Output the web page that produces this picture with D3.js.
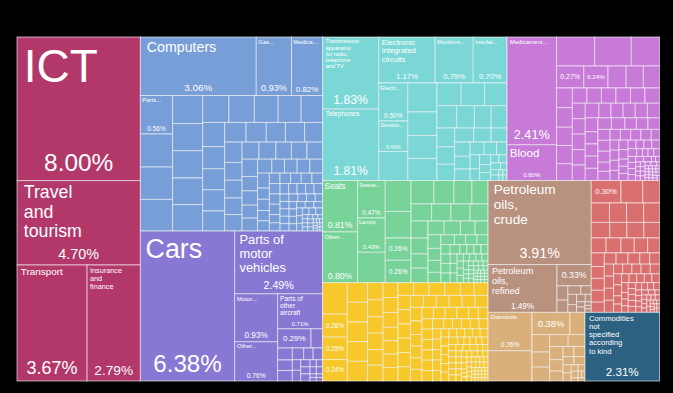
<!DOCTYPE html>
<html>
<head>
<meta charset="utf-8">
<script src="https://cdn.jsdelivr.net/npm/d3@7"></script>
<style>
  html, body { margin: 0; background: #000; }
  svg { display: block; font-family: "Liberation Sans", Arial, sans-serif; }
</style>
</head>
<body>
<div id="chart"></div>
<script>
// share of exports, % of total
const servicesValues = [8.00, 4.70, 3.67, 2.79];
const servicesLabels = ["ICT", "Travel and tourism", "Transport", "Insurance and finance"];

const machinesValues = [3.06, 0.93, 0.82, 0.56, 0.48, 0.47, 0.46, 0.38, 0.37, 0.37, 0.36, 0.36,
  0.32, 0.31, 0.29, 0.28, 0.26, 0.24, 0.22, 0.21, 0.21, 0.20, 0.19, 0.18, 0.17, 0.17, 0.16, 0.16,
  0.14, 0.14, 0.13, 0.13, 0.13, 0.13, 0.12, 0.12, 0.12, 0.12, 0.10, 0.10, 0.09, 0.09, 0.09,
  0.08, 0.08, 0.08, 0.08, 0.08, 0.06, 0.06, 0.055, 0.055, 0.05, 0.05, 0.05, 0.05, 0.05, 0.05, 0.05, 0.05,
  0.04, 0.04, 0.04, 0.04, 0.04, 0.04, 0.04, 0.03, 0.03, 0.03, 0.03, 0.03, 0.03, 0.03, 0.03,
  0.025, 0.025, 0.025, 0.025, 0.025, 0.025, 0.025, 0.025, 0.02, 0.02, 0.02, 0.02, 0.02, 0.02,
  0.01, 0.01, 0.01, 0.01, 0.01, 0.01, 0.01, 0.01, 0.01, 0.01,
  0.005, 0.005, 0.005, 0.005, 0.005, 0.005, 0.005, 0.005, 0.005, 0.005];
const machinesLabels = ["Computers", "Gas...", "Medica...", "Parts..."];

const transportValues = [6.38, 2.49, 0.93, 0.76, 0.71, 0.29, 0.10, 0.08, 0.07, 0.07, 0.06, 0.05,
  0.05, 0.04, 0.04, 0.03, 0.03, 0.03, 0.02, 0.02, 0.02, 0.02, 0.01, 0.01, 0.01, 0.01];
const transportLabels = ["Cars", "Parts of motor vehicles", "Motor...", "Other...", "Parts of other aircraft", ""];

const electronicsValues = [1.83, 1.81, 1.17, 0.79, 0.70, 0.50, 0.40, 0.38, 0.38, 0.31, 0.30, 0.29,
  0.25, 0.24, 0.23, 0.20, 0.18, 0.17, 0.16, 0.15, 0.14, 0.13, 0.12, 0.11, 0.10, 0.10, 0.09, 0.08,
  0.08, 0.07, 0.06, 0.06, 0.05, 0.05, 0.04, 0.04, 0.03, 0.03, 0.03, 0.02, 0.02, 0.02,
  0.01, 0.01, 0.01, 0.01];
const electronicsLabels = ["Transmission apparatus for radio, telephone and TV", "Telephones",
  "Electronic integrated circuits", "Monitors...", "Insulat...", "Electr...", "Semico..."];

const chemicalsValues = [2.41, 0.80, 0.50, 0.48, 0.37, 0.27, 0.24, 0.18, 0.17, 0.16, 0.14, 0.14,
  0.13, 0.13, 0.12, 0.10, 0.10, 0.10, 0.10, 0.10, 0.10, 0.09, 0.09, 0.09, 0.09, 0.09, 0.09,
  0.08, 0.08, 0.08, 0.08, 0.08, 0.08, 0.07, 0.07, 0.07, 0.07, 0.07, 0.07, 0.06, 0.06, 0.06, 0.06,
  0.06, 0.06, 0.05, 0.05, 0.05, 0.05, 0.05, 0.05, 0.04, 0.04, 0.04, 0.04, 0.04, 0.04, 0.04,
  0.03, 0.03, 0.03, 0.03, 0.03, 0.03, 0.03, 0.03, 0.02, 0.02, 0.02, 0.02, 0.02, 0.02, 0.02, 0.02,
  0.02, 0.02, 0.01, 0.01, 0.01, 0.01, 0.01, 0.01, 0.01, 0.01, 0.01, 0.01, 0.01, 0.01,
  0.005, 0.005, 0.005, 0.005, 0.005, 0.005, 0.005, 0.005, 0.005, 0.005,
  0.005, 0.005, 0.005, 0.005, 0.005, 0.005, 0.005, 0.005, 0.005, 0.005];
const chemicalsLabels = ["Medicament...", "Blood", null, null, null, "", ""];

const miscValues = [0.81, 0.80, 0.47, 0.43, 0.38, 0.36, 0.31, 0.26, 0.26, 0.24, 0.21, 0.19, 0.17,
  0.16, 0.15, 0.15, 0.14, 0.13, 0.12, 0.11, 0.11, 0.10, 0.10, 0.09, 0.08, 0.08, 0.07, 0.07,
  0.06, 0.06, 0.05, 0.05, 0.05, 0.04, 0.04, 0.04, 0.04, 0.04,
  0.03, 0.03, 0.03, 0.03, 0.03, 0.03, 0.03, 0.02, 0.02, 0.02, 0.02, 0.02, 0.02, 0.02, 0.02, 0.02,
  0.01, 0.01, 0.01, 0.01, 0.01, 0.01, 0.01, 0.01, 0.01, 0.01, 0.01, 0.01, 0.01, 0.01,
  0.005, 0.005, 0.005, 0.005, 0.005, 0.005, 0.005, 0.005,
  0.005, 0.005, 0.005, 0.005, 0.005, 0.005, 0.005, 0.005];
const miscLabels = ["Seats", "Other...", "Sweat...", "Lamps", null, null, null, "", ""];

const textilesValues = [0.35, 0.26, 0.25, 0.24, 0.18, 0.18, 0.18, 0.18, 0.18, 0.12, 0.12, 0.115,
  0.115, 0.11, 0.11, 0.10, 0.10, 0.10, 0.09, 0.09, 0.09, 0.09, 0.09, 0.09, 0.09, 0.09,
  0.08, 0.08, 0.08, 0.08, 0.08, 0.08, 0.08, 0.08, 0.07, 0.07, 0.07, 0.07, 0.07, 0.07, 0.07, 0.07,
  0.06, 0.06, 0.06, 0.06, 0.06, 0.06, 0.06, 0.06, 0.05, 0.05, 0.05, 0.05, 0.05, 0.05, 0.05, 0.05, 0.05,
  0.04, 0.04, 0.04, 0.04, 0.04, 0.04, 0.04, 0.04, 0.04, 0.04,
  0.03, 0.03, 0.03, 0.03, 0.03, 0.03, 0.03, 0.03, 0.03, 0.03, 0.03, 0.03,
  0.02, 0.02, 0.02, 0.02, 0.02, 0.02, 0.02, 0.02, 0.02, 0.02, 0.02, 0.02, 0.02, 0.02,
  0.015, 0.015, 0.015, 0.015, 0.015, 0.015, 0.015, 0.015, 0.015, 0.015, 0.015, 0.015, 0.015, 0.015,
  0.01, 0.01, 0.01, 0.01, 0.01, 0.01, 0.01, 0.01, 0.01, 0.01, 0.01, 0.01, 0.01, 0.01, 0.01, 0.01,
  0.005, 0.005, 0.005, 0.005, 0.005, 0.005, 0.005, 0.005, 0.005, 0.005,
  0.005, 0.005, 0.005, 0.005, 0.005, 0.005, 0.005, 0.005, 0.005, 0.005];
const textilesLabels = [null, "", "", ""];

const mineralValues = [3.91, 1.49, 0.33, 0.07, 0.06, 0.05, 0.04, 0.04, 0.03, 0.03, 0.02, 0.02,
  0.02, 0.01, 0.01, 0.01];
const mineralLabels = ["Petroleum oils, crude", "Petroleum oils, refined", ""];

const metalsValues = [0.30, 0.22, 0.17, 0.16, 0.15, 0.15, 0.14, 0.13, 0.12, 0.12, 0.11, 0.10, 0.10,
  0.09, 0.09, 0.08, 0.08, 0.07, 0.07, 0.07, 0.06, 0.06, 0.06, 0.06, 0.05, 0.05, 0.05, 0.05, 0.05, 0.05,
  0.04, 0.04, 0.04, 0.04, 0.04, 0.04, 0.04, 0.03, 0.03, 0.03, 0.03, 0.03, 0.03, 0.03, 0.03,
  0.02, 0.02, 0.02, 0.02, 0.02, 0.02, 0.02, 0.02, 0.02, 0.02, 0.02, 0.02,
  0.015, 0.015, 0.015, 0.015, 0.015, 0.015, 0.01, 0.01, 0.01, 0.01, 0.01, 0.01, 0.01, 0.01, 0.01, 0.01,
  0.005, 0.005, 0.005, 0.005, 0.005, 0.005, 0.005, 0.005, 0.005, 0.005];
const metalsLabels = [""];

const preciousValues = [0.76, 0.60, 0.38, 0.15, 0.14, 0.12, 0.11, 0.10, 0.09, 0.08, 0.07, 0.06,
  0.05, 0.05, 0.04, 0.04, 0.03, 0.03, 0.02, 0.02, 0.02, 0.01, 0.01, 0.01, 0.01];
const preciousLabels = ["Diamonds", null, ""];

const commoditiesValues = [2.31];
const commoditiesLabels = ["Commodities not specified according to kind"];

const sectionNames = ["Services", "Machines", "Transportation", "Electronics", "Chemical Products",
  "Miscellaneous", "Textiles", "Mineral Products", "Metals", "Precious Metals", "Commodities"];
const sectionColors = ["#b3386a", "#789ed7", "#8878d3", "#7bd7d6", "#c77ad7",
  "#78d399", "#f6c82b", "#b8917f", "#d9706f", "#d9b07b", "#2c6182"];
const sectionValues = [servicesValues, machinesValues, transportValues, electronicsValues, chemicalsValues,
  miscValues, textilesValues, mineralValues, metalsValues, preciousValues, commoditiesValues];
const sectionLabels = [servicesLabels, machinesLabels, transportLabels, electronicsLabels, chemicalsLabels,
  miscLabels, textilesLabels, mineralLabels, metalsLabels, preciousLabels, commoditiesLabels];

// how many sections go in each squarified row of the top level
const rowSizes = [1, 2, 2, 2, 2, 1, 1];

const width = 673, height = 393;
const margin = {top: 37, right: 13.5, bottom: 12, left: 17};

const svg = d3.select('#chart').append('svg').attr('width', width).attr('height', height);
svg.append('rect').attr('width', width).attr('height', height).attr('fill', '#000');

const data = {
  name: "Exports",
  children: sectionNames.map((name, s) => ({
    name: name,
    color: sectionColors[s],
    children: sectionValues[s].map((v, i) => ({value: v, label: sectionLabels[s][i], color: sectionColors[s]}))
  }))
};

const squarify = d3.treemapSquarify.ratio(1);

function sectionTile(parent, x0, y0, x1, y1) {
  if (parent.depth > 0) return squarify(parent, x0, y0, x1, y1);
  let value = parent.value, i = 0;
  rowSizes.forEach(n => {
    const kids = parent.children.slice(i, i + n);
    const row = {children: kids, value: d3.sum(kids, d => d.value)};
    if (x1 - x0 < y1 - y0) d3.treemapDice(row, x0, y0, x1, y0 += (y1 - y0) * row.value / value);
    else d3.treemapSlice(row, x0, y0, x0 += (x1 - x0) * row.value / value, y1);
    value -= row.value;
    i += n;
  });
}

const root = d3.hierarchy(data)
  .sum(d => d.value || 0)
  .sort((a, b) => b.value - a.value);

d3.treemap()
  .tile(sectionTile)
  .size([width - margin.left - margin.right, height - margin.top - margin.bottom])
  .round(false)(root);

const g = svg.append('g').attr('transform', `translate(${margin.left},${margin.top})`);

const leaves = root.leaves();

g.selectAll('rect.cell')
  .data(leaves)
  .enter().append('rect')
  .attr('class', 'cell')
  .attr('x', d => d.x0)
  .attr('y', d => d.y0)
  .attr('width', d => d.x1 - d.x0)
  .attr('height', d => d.y1 - d.y0)
  .attr('fill', d => d.data.color)
  .attr('stroke', 'rgba(255,255,255,0.6)')
  .attr('stroke-width', 1);

// text measuring
const ctx = document.createElement('canvas').getContext('2d');
ctx.font = "100px 'Liberation Sans', Arial, sans-serif";
const em = s => ctx.measureText(s).width / 100;

function wrap(words, f, limit) {
  const lines = [];
  words.forEach(word => {
    const last = lines[lines.length - 1];
    if (last && em(last + ' ' + word) * f <= limit) lines[lines.length - 1] = last + ' ' + word;
    else lines.push(word);
  });
  return lines;
}

function nameLayout(text, w, h, shareSize) {
  if (text.endsWith('...')) return {f: Math.min(6, 0.8 * w / em(text)), lines: [text]};
  const words = text.split(' ');
  const f0 = 0.6 * w / d3.max(words, em);
  const avail = h - 1.6 * shareSize - 4;
  let f = f0, lines;
  for (let k = 0; k < 4; k++) {
    lines = wrap(words, f, 0.55 * w);
    f = Math.min(f0, avail / (lines.length * 1.08));
  }
  return {f, lines};
}

const labelled = leaves.filter(d => d.data.label !== null && d.data.label !== undefined);

labelled.forEach(d => {
  const w = d.x1 - d.x0, h = d.y1 - d.y0;
  const pct = d.value.toFixed(2) + '%';
  const cell = g.append('g').attr('fill', '#fff');
  if (d.data.label === '') {
    const sf = Math.min(w / 3.9, h * 0.42);
    cell.append('text')
      .attr('x', (d.x0 + d.x1) / 2)
      .attr('y', (d.y0 + d.y1) / 2 + 0.35 * sf)
      .attr('text-anchor', 'middle')
      .attr('font-size', sf)
      .text(pct);
    return;
  }
  const sf = Math.min(w / 3.9, h * 0.17);
  const nl = nameLayout(d.data.label, w, h, sf);
  const name = cell.append('text')
    .attr('x', d.x0 + 0.055 * w)
    .attr('y', d.y0 + 0.95 * nl.f + 1)
    .attr('font-size', nl.f);
  nl.lines.forEach((line, i) => {
    name.append('tspan')
      .attr('x', d.x0 + 0.055 * w)
      .attr('dy', i ? 1.08 * nl.f : 0)
      .text(line);
  });
  cell.append('text')
    .attr('x', (d.x0 + d.x1) / 2)
    .attr('y', d.y1 - 0.35 * sf - 1)
    .attr('text-anchor', 'middle')
    .attr('font-size', sf)
    .text(pct);
});
</script>
</body>
</html>
